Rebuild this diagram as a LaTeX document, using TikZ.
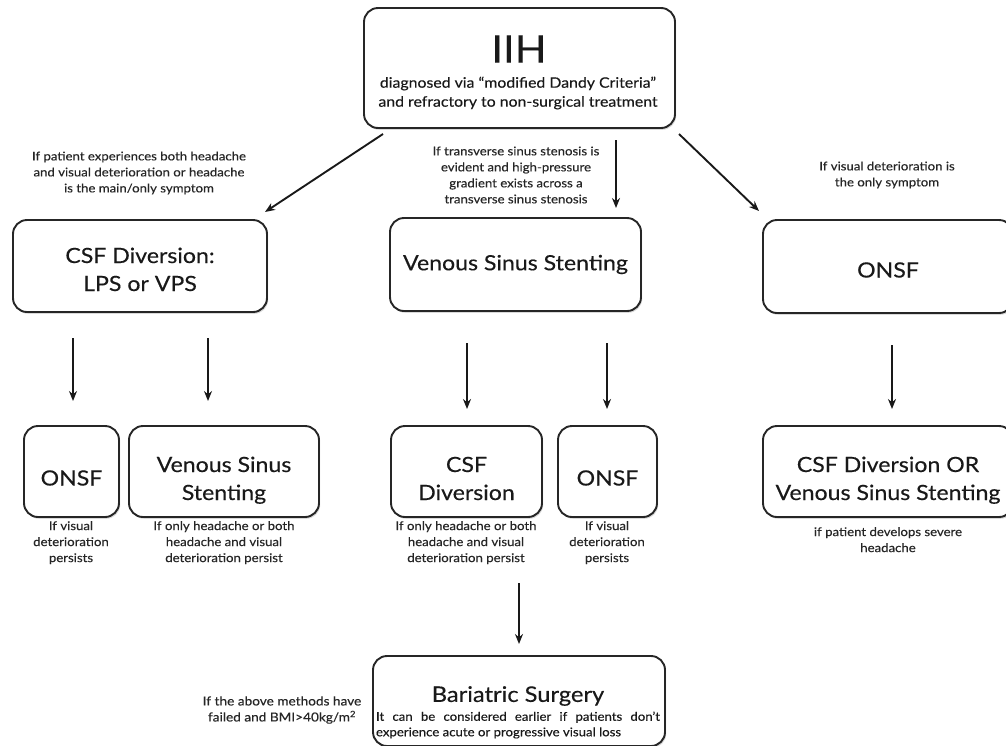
\documentclass[tikz,border=0pt]{standalone}
\usepackage{fontspec}
\setmainfont{Lato}[FakeStretch=1.1,FakeBold=0.3]
\usetikzlibrary{arrows.meta,shadows}
\begin{document}
\begin{tikzpicture}[x=1pt,y=-1pt,
  box/.style={draw=black!85, line width=1.9pt, rounded corners=14pt, fill=white, align=center, inner sep=0pt,
    drop shadow={shadow xshift=1.2pt, shadow yshift=-1.8pt, opacity=0.3}, text=black!90},
  big/.style={font=\fontsize{21}{28}\selectfont},
  twoline/.style={text height=57pt, text depth=0pt},
  oneline/.style={text height=28pt, text depth=0pt},
  note/.style={align=center, inner sep=0pt, font=\fontsize{12}{16}\selectfont, text=black!85},
  arr/.style={-{Stealth[length=10pt,width=8pt]}, line width=1.9pt, draw=black!90}]
\useasboundingbox (0,0) rectangle (1006,745);
\clip (0,0) rectangle (1006,745);
% top box
\node[box, minimum width=311pt, minimum height=120pt] (iih) at (519.5,68) {};
\node[inner sep=0pt, font=\fontsize{38}{38}\selectfont, text=black!90] (iiht) at (519,49) {IIH};
\node[note, font=\fontsize{14.4}{19}\selectfont, text=black!90] (iihs) at (518,93) {diagnosed via ``modified Dandy Criteria''\\and refractory to non-surgical treatment};
% conditions
\node[note] (c1) at (139,173) {If patient experiences both headache\\and visual deterioration or headache\\is the main/only symptom};
\node[note] (c2) at (516,175) {If transverse sinus stenosis is\\evident and high-pressure\\gradient exists across a\\transverse sinus stenosis};
\node[note] (c3) at (887,175) {If visual deterioration is\\the only symptom};
% level 1
\node[box, big, minimum width=254pt, minimum height=92pt, text height=50pt, text depth=0pt] (csf) at (140,266) {CSF Diversion:\\LPS or VPS};
\node[box, big, minimum width=251pt, minimum height=93pt] (vss) at (515.5,264.5) {Venous Sinus Stenting};
\node[box, big, minimum width=250pt, minimum height=93pt, text height=22pt, text depth=0pt] (onsf) at (888,266.5) {ONSF};
% arrows top
\coordinate (a1s) at (383,134); \coordinate (a1e) at (265,212);
\coordinate (a2s) at (616,140); \coordinate (a2e) at (616,208);
\coordinate (a3s) at (679,134); \coordinate (a3e) at (759,211);
\draw[arr] (a1s) -- (a1e);
\draw[arr] (a2s) -- (a2e);
\draw[arr] (a3s) -- (a3e);
% level 2
\node[box, big, minimum width=95pt, minimum height=91pt, oneline] (onsfa) at (71.5,471.5) {ONSF};
\node[box, big, minimum width=190pt, minimum height=91pt, twoline] (vssa) at (224,471.5) {Venous Sinus\\Stenting};
\node[box, big, minimum width=151pt, minimum height=91pt, twoline] (csfb) at (466.5,471.5) {CSF\\Diversion};
\node[box, big, minimum width=99pt, minimum height=91pt, oneline] (onsfb) at (607.5,471.5) {ONSF};
\node[box, big, minimum width=250pt, minimum height=91pt, twoline] (both) at (888,471.5) {CSF Diversion OR\\Venous Sinus Stenting};
% level 2 arrows
\coordinate (b1s) at (73,338); \coordinate (b1e) at (73,401);
\coordinate (b2s) at (208,338); \coordinate (b2e) at (208,401);
\coordinate (b3s) at (467,343); \coordinate (b3e) at (467,409);
\coordinate (b4s) at (607,343); \coordinate (b4e) at (607,409);
\coordinate (b5s) at (892,345); \coordinate (b5e) at (892,409);
\draw[arr] (b1s) -- (b1e);
\draw[arr] (b2s) -- (b2e);
\draw[arr] (b3s) -- (b3e);
\draw[arr] (b4s) -- (b4e);
\draw[arr] (b5s) -- (b5e);
% labels under level 2
\node[note, anchor=north] (l1) at (71,521) {If visual\\deterioration\\persists};
\node[note, anchor=north] (l2) at (224,521) {If only headache or both\\headache and visual\\deterioration persist};
\node[note, anchor=north] (l3) at (466,521) {If only headache or both\\headache and visual\\deterioration persist};
\node[note, anchor=north] (l4) at (607,521) {If visual\\deterioration\\persists};
\node[note, anchor=north] (l5) at (888,527) {if patient develops severe\\headache};
% bottom
\coordinate (c1s) at (519,583); \coordinate (c1e) at (519,644);
\draw[arr] (c1s) -- (c1e);
\node[box, minimum width=292pt, minimum height=90pt] (bar) at (519,701) {};
\node[inner sep=0pt, font=\fontsize{21.5}{21.5}\selectfont, text=black!90] (bart) at (518,696) {Bariatric Surgery};
\node[note, font=\fontsize{12}{15.5}\selectfont, text=black!90] (bars) at (518,725) {\makebox[284pt][s]{It can be considered earlier if patients don't}\\\makebox[284pt][l]{experience acute or progressive visual loss}};
\node[note, font=\fontsize{12.4}{16}\selectfont] (bmi) at (282,710) {If the above methods have\\failed and BMI>40kg/m\textsuperscript{2}};
\end{tikzpicture}
\end{document}
